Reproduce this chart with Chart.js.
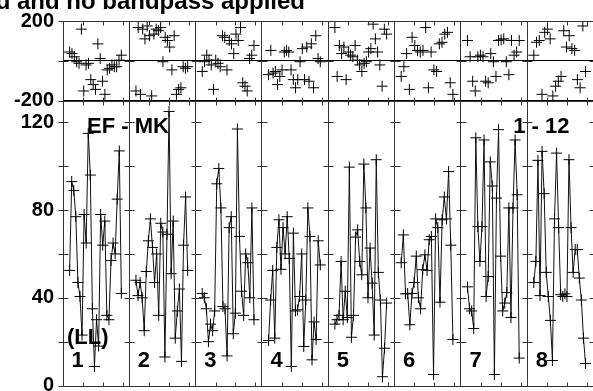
<!DOCTYPE html>
<html>
<head>
<meta charset="utf-8">
<script src="https://cdn.jsdelivr.net/npm/chart.js@4.4.0/dist/chart.umd.min.js"></script>
<style>
  html, body { margin: 0; padding: 0; background: #fff; overflow: hidden; }
  #wrap { position: relative; width: 593px; height: 391px; overflow: hidden; }
  #wrap canvas { position: absolute; left: 0; top: 0; }
</style>
</head>
<body>
<div id="wrap">
  <canvas id="amp" width="600" height="410"></canvas>
  <canvas id="phase" width="600" height="410"></canvas>
</div>
<script>
// Labels and tick values
const titleText = 'd and no bandpass applied';
const baselineLabel = 'EF - MK';
const channelLabel = '1 - 12';
const polLabel = '(LL)';
const panelNumbers = ['1', '2', '3', '4', '5', '6', '7', '8'];
const phaseTicks = [-200, 0, 200];
const ampTicks = [0, 40, 80, 120];
const ampAllTicks = [0, 20, 40, 60, 80, 100, 120];
const xTickFractions = [0.3, 0.6, 0.9];

// Amplitude per panel (samples in time order)
const amp1 = [52.5, 93, 89, 77, 47, 40.6, 23, 78, 65, 115, 96, 35, 8.7, 30, 18, 78, 64, 75, 32, 30, 57, 65, 60, 85, 107, 42];
const amp2 = [48, 41, 47, 40, 25, 52, 66, 76, 63, 47, 60, 32, 74, 70, 13, 69, 125, 51, 75, 21.6, 34, 44, 11, 64, 86, 52.5];
const amp3 = [42, 40, 35, 20, 28, 25, 34, 92, 99, 81, 36, 35, 13.5, 72, 77, 23.6, 33, 117, 68, 43, 32, 60, 56, 40, 81, 30];
const amp4 = [20.5, 39, 52.5, 21.6, 63, 75.6, 53, 72, 60, 77, 58, 8.7, 69.5, 34, 34.5, 40.6, 60, 17.8, 39, 81, 68, 11.7, 29, 21, 66, 55];
const amp5 = [28, 30, 32, 56.6, 30, 43, 31, 99.6, 22, 32, 67.7, 71, 56.6, 50.5, 101, 81, 40, 62.7, 46.7, 23, 103, 51.6, 39, 4, 17, 37.6];
const amp6 = [56, 68.7, 41.8, 42, 27.7, 42, 47, 59, 40, 35, 52.8, 59.6, 52.5, 66.5, 68, 5, 76, 72, 38, 75.6, 86, 76, 97.6, 64, 21];
const amp7 = [45, 35, 34, 26, 113, 72.5, 56.6, 72.5, 112, 40.6, 49.7, 102, 91, 5, 85.5, 116.7, 59, 34, 37.6, 42.4, 81, 31, 81, 112, 87, 12.5];
const amp8 = [47, 56.6, 102.7, 41, 106.8, 87.5, 51.6, 40.6, 29.7, 11.4, 76, 106, 72, 41.4, 40.6, 41.8, 40.6, 103, 72, 51.6, 62, 62, 49, 39, 21.6, 10];

// Phase per panel (degrees)
const ph1 = [44, 36, 20, -5, -13, 159, -152, -21, -13, -95, -120, -144, 85, 11, -103, -169, -46, -38, -21, -30, -30, 3, 28];
const ph2 = [-152, 167, -169, 159, 110, 175, 126, -177, 134, 159, 151, 167, -5, 118, 102, 69, -46, 126, -169, -144, -136, -30, -38, -30];
const ph3 = [-54, -5, 28, 3, -21, -144, 3, -13, -30, 126, 118, -46, 102, 85, 36, 134, 102, 167, -111, -128, -152, 11, 28, 77];
const ph4 = [-70, 52, -62, -54, -120, -79, -46, 44, 52, 44, -46, -95, -136, -95, -5, 61, -95, 69, -103, 85, -136, 126, 11, -5];
const ph5 = [167, -79, 77, 36, 69, -95, 44, 28, 20, 77, 3, -21, -54, -13, -5, 44, 61, 184, 110, 44, -21, -128, 159, 134];
const ph6 = [-79, -30, 36, -144, 118, 77, 52, 44, 52, 167, -136, 44, -46, -54, 85, 93, 134, 143, -111, -169];
const ph7 = [102, 20, -103, -152, 20, 28, 20, -103, -111, 36, -5, -79, 102, 105, 110, -5, -70, 102, 28, 44, 102];
const ph8 = [28, 93, 102, -169, 143, 159, 110, -177, -128, -103, -79, 151, 69, 126, 61, 52, -95, -136, 175, -54];

const ampPanels = [amp1, amp2, amp3, amp4, amp5, amp6, amp7, amp8];
const phasePanels = [ph1, ph2, ph3, ph4, ph5, ph6, ph7, ph8];
const panelCount = ampPanels.length;

const FONT = '"Liberation Sans", Arial, Helvetica, sans-serif';

// Spread the samples of one panel across its slot on the x axis
function panelPoints(values, panel) {
  const first = 0.1, last = 0.88;
  const step = (last - first) / (values.length - 1);
  return values.map((v, i) => ({ x: panel + first + i * step, y: v }));
}

// Box round the plot, tick marks across the panel borders and along top/bottom
function makeFramePlugin(tickValues) {
  return {
    id: 'frame',
    afterDraw(chart) {
      const { ctx, chartArea: a, scales: { x, y } } = chart;
      const px = v => Math.round(v) + 0.5;
      ctx.save();
      ctx.strokeStyle = '#333';
      ctx.lineWidth = 1;
      ctx.beginPath();
      ctx.rect(px(a.left), px(a.top), Math.round(a.right) - Math.round(a.left), Math.round(a.bottom) - Math.round(a.top));
      for (let p = 0; p <= panelCount; p++) {
        const bx = px(x.getPixelForValue(p));
        tickValues.forEach(v => {
          const ty = px(y.getPixelForValue(v));
          ctx.moveTo(bx - 5, ty);
          ctx.lineTo(bx + 5, ty);
        });
      }
      for (let p = 0; p < panelCount; p++) {
        xTickFractions.forEach(f => {
          const tx = px(x.getPixelForValue(p + f));
          ctx.moveTo(tx, px(a.top));
          ctx.lineTo(tx, px(a.top) + 4);
          ctx.moveTo(tx, px(a.bottom));
          ctx.lineTo(tx, px(a.bottom) - 4);
        });
      }
      ctx.stroke();
      ctx.restore();
    }
  };
}

const titlePlugin = {
  id: 'titleText',
  afterDraw(chart) {
    const ctx = chart.ctx;
    ctx.save();
    ctx.fillStyle = '#000';
    ctx.font = 'bold 24px ' + FONT;
    ctx.textAlign = 'right';
    ctx.textBaseline = 'alphabetic';
    ctx.fillText(titleText, 305, 8.5);
    ctx.restore();
  }
};

const panelTextPlugin = {
  id: 'panelText',
  afterDraw(chart) {
    const { ctx, chartArea: a, scales: { x } } = chart;
    ctx.save();
    ctx.fillStyle = '#000';
    ctx.font = 'bold 22px ' + FONT;
    ctx.textBaseline = 'middle';
    ctx.textAlign = 'left';
    ctx.fillText(baselineLabel, a.left + 24, a.top + 26);
    ctx.fillText(polLabel, a.left + 4, a.bottom - 48);
    ctx.textAlign = 'right';
    ctx.fillText(channelLabel, a.right - 24, a.top + 26);
    ctx.textAlign = 'left';
    ctx.textBaseline = 'alphabetic';
    panelNumbers.forEach((n, p) => ctx.fillText(n, x.getPixelForValue(p) + 8.5, a.bottom - 18.5));
    ctx.restore();
  }
};

function xScale() {
  return {
    type: 'linear',
    min: 0,
    max: panelCount,
    afterBuildTicks: s => { s.ticks = panelNumbers.map((_, i) => ({ value: i })).concat([{ value: panelCount }]); },
    afterFit: s => { s.height = 0; },
    ticks: { display: false },
    border: { display: false },
    grid: { display: true, drawTicks: false, color: '#333', lineWidth: 1 }
  };
}

function yScale(min, max, ticks, showGrid) {
  return {
    type: 'linear',
    min: min,
    max: max,
    afterBuildTicks: s => { s.ticks = ticks.map(v => ({ value: v })); },
    afterFit: s => { s.width = 63; },
    border: { display: false },
    grid: { display: showGrid, drawTicks: false, color: '#000', lineWidth: 1 },
    ticks: {
      color: '#000',
      padding: 9,
      font: { family: FONT, size: 20, weight: 'bold' },
      callback: v => (min < 0 && v === 0) ? '' : String(v)
    }
  };
}

const common = {
  responsive: false,
  animation: false,
  plugins: { legend: { display: false }, tooltip: { enabled: false }, title: { display: false } }
};

// Amplitude (lower) chart
new Chart(document.getElementById('amp'), {
  type: 'scatter',
  data: {
    datasets: ampPanels.map((vals, p) => ({
      data: panelPoints(vals, p),
      showLine: true,
      borderColor: '#111',
      borderWidth: 1,
      tension: 0,
      pointStyle: 'cross',
      pointRadius: 5.5,
      pointBorderColor: '#000',
      pointBorderWidth: 1
    }))
  },
  options: Object.assign({}, common, {
    layout: { padding: { left: 0, right: 3, top: 100.5, bottom: 24.5 } },
    scales: { x: xScale(), y: yScale(0, 130, ampTicks, false) }
  }),
  plugins: [makeFramePlugin(ampAllTicks), panelTextPlugin]
});

// Phase (upper) chart
new Chart(document.getElementById('phase'), {
  type: 'scatter',
  data: {
    datasets: phasePanels.map((vals, p) => ({
      data: panelPoints(vals, p),
      showLine: false,
      pointStyle: 'cross',
      pointRadius: 5.5,
      pointBorderColor: '#000',
      pointBorderWidth: 1
    }))
  },
  options: Object.assign({}, common, {
    layout: { padding: { left: 0, right: 3, top: 19.5, bottom: 309.5 } },
    scales: { x: xScale(), y: yScale(-200, 200, phaseTicks, true) }
  }),
  plugins: [makeFramePlugin(phaseTicks), titlePlugin]
});
</script>
</body>
</html>
